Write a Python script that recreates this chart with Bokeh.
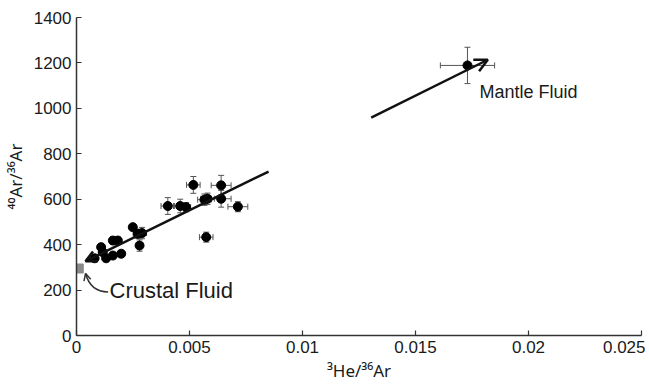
from bokeh.plotting import figure
from bokeh.models import (ColumnDataSource, Whisker, TeeHead, Arrow, OpenHead, Label,
                          Range1d, FixedTicker, CustomJSTickFormatter)
from bokeh.embed import file_html
from bokeh.resources import INLINE

# ---- data ----
crust_x = [0.00080, 0.00109, 0.00116, 0.00131, 0.00161, 0.00161, 0.00183, 0.00198, 0.00249, 0.00271,
           0.00279, 0.00290, 0.00404, 0.00459, 0.00485, 0.00517, 0.00566, 0.00580, 0.00574, 0.00640,
           0.00640, 0.00714]
crust_y = [340, 389, 367, 340, 418, 352, 418, 360, 477, 448,
           396, 451, 570, 570, 565, 663, 598, 602, 433, 661,
           602, 567]
crust_xerr = [0.0001, 0.0001, 0.0001, 0.0001, 0.0001, 0.0001, 0.0001, 0.0001, 0.0001, 0.0002,
              0.0001, 0.0002, 0.0003, 0.0003, 0.0002, 0.0003, 0.0003, 0.0003, 0.0003, 0.00044,
              0.00044, 0.00044]
crust_yerr = [10, 10, 10, 10, 15, 10, 15, 10, 10, 20,
              25, 25, 37, 30, 20, 37, 25, 25, 22, 44,
              37, 22]

mantle_x = [0.0173]
mantle_y = [1189]
mantle_xerr = [0.0012]
mantle_yerr = [80]

crustal_end_x = [0.0001]
crustal_end_y = [295]

# trend arrows (start, end)
crust_arrow = dict(x0=0.0085, y0=722, x1=0.0004, y1=327)
mantle_arrow = dict(x0=0.01304, y0=959, x1=0.0182, y1=1214)

x_ticks = [0, 0.005, 0.01, 0.015, 0.02, 0.025]
y_ticks = [0, 200, 400, 600, 800, 1000, 1200, 1400]

FONT = "Liberation Sans"
LFONT = "Noto Sans"
TXT = "#1a1a1a"

p = figure(frame_width=565, frame_height=318, min_border_left=72, min_border_right=4,
           min_border_top=17, min_border_bottom=43, output_backend="svg", toolbar_location=None,
           x_range=Range1d(0, 0.025), y_range=Range1d(0, 1400))
p.outline_line_color = None
p.grid.grid_line_color = None
p.background_fill_color = "white"

for ax in (p.xaxis[0], p.yaxis[0]):
    ax.axis_line_color = "#333333"
    ax.axis_line_width = 1.5
    ax.major_tick_in = 5
    ax.major_tick_out = 0
    ax.major_tick_line_color = "#333333"
    ax.major_tick_line_width = 1.2
    ax.minor_tick_line_color = None
    ax.major_label_text_font = FONT
    ax.major_label_text_font_size = "17px"
    ax.major_label_text_color = TXT
    ax.axis_label_text_font = LFONT
    ax.axis_label_text_font_size = "17px"
    ax.axis_label_text_font_style = "normal"
    ax.axis_label_text_color = TXT
    ax.major_label_standoff = 5

p.xaxis.ticker = FixedTicker(ticks=x_ticks)
p.yaxis.ticker = FixedTicker(ticks=y_ticks)
p.xaxis.formatter = CustomJSTickFormatter(code="return tick == 0 ? '0' : parseFloat(tick.toFixed(4)).toString();")
p.xaxis.axis_label = "\u00b3He/\u00b3\u2076Ar"
p.yaxis.axis_label = "\u2074\u2070Ar/\u00b3\u2076Ar"
p.xaxis.axis_label_standoff = 3
p.yaxis.axis_label_standoff = 4

# error bars
ERR = "#555555"
def add_errors(xs, ys, xe, ye):
    src = ColumnDataSource(dict(
        x=xs, y=ys,
        xl=[a - b for a, b in zip(xs, xe)], xu=[a + b for a, b in zip(xs, xe)],
        yl=[a - b for a, b in zip(ys, ye)], yu=[a + b for a, b in zip(ys, ye)]))
    p.add_layout(Whisker(source=src, base="x", lower="yl", upper="yu", dimension="height",
                         line_color=ERR, line_width=1,
                         lower_head=TeeHead(size=6, line_color=ERR, line_width=1),
                         upper_head=TeeHead(size=6, line_color=ERR, line_width=1)))
    p.add_layout(Whisker(source=src, base="y", lower="xl", upper="xu", dimension="width",
                         line_color=ERR, line_width=1,
                         lower_head=TeeHead(size=6, line_color=ERR, line_width=1),
                         upper_head=TeeHead(size=6, line_color=ERR, line_width=1)))
    return src

src_c = add_errors(crust_x, crust_y, crust_xerr, crust_yerr)
src_m = add_errors(mantle_x, mantle_y, mantle_xerr, mantle_yerr)

# crustal trend arrow
p.add_layout(Arrow(x_start=crust_arrow["x0"], y_start=crust_arrow["y0"],
                   x_end=crust_arrow["x1"], y_end=crust_arrow["y1"],
                   line_color="#111111", line_width=2.5,
                   end=OpenHead(size=11, line_color="#111111", line_width=2.5)))

# points
p.scatter("x", "y", source=src_c, size=9, color="#000000")
p.scatter("x", "y", source=src_m, size=9, color="#000000")

# mantle arrow
p.add_layout(Arrow(x_start=mantle_arrow["x0"], y_start=mantle_arrow["y0"],
                   x_end=mantle_arrow["x1"], y_end=mantle_arrow["y1"],
                   line_color="#111111", line_width=2.5,
                   end=OpenHead(size=13, line_color="#111111", line_width=2.5)))

# crustal end member
p.scatter(crustal_end_x, crustal_end_y, marker="square", size=9, color="#8a8a8a")

# curved pointer from label
p.quadratic(x0=[0.00140], y0=[192], x1=[0.0004], y1=[273], cx=[0.00062], cy=[192],
            line_color="#333333", line_width=1.5)
p.add_layout(Arrow(x_start=0.00058, y_start=207, x_end=0.0004, y_end=273,
                   line_alpha=0,
                   end=OpenHead(size=7, line_color="#333333", line_width=1.5)))

p.add_layout(Label(x=0.00146, y=196, text="Crustal Fluid", text_font=FONT,
                   text_font_size="22px", text_color=TXT, text_baseline="middle"))
p.add_layout(Label(x=0.01783, y=1072, text="Mantle Fluid", text_font=FONT,
                   text_font_size="18px", text_color=TXT, text_baseline="middle"))

open("out.html", "w").write(file_html(p, INLINE))
